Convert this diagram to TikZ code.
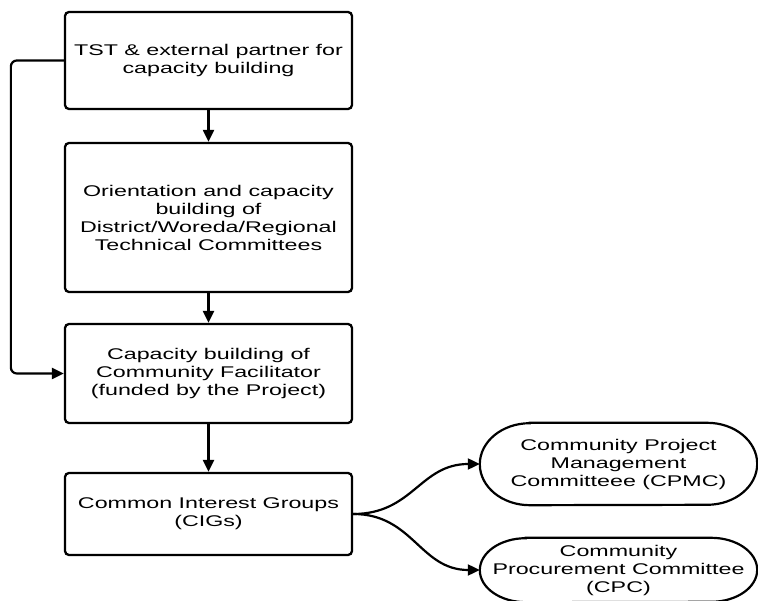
\documentclass[tikz,border=0pt]{standalone}
\usepackage{fontspec}
\setmainfont{Liberation Sans}[FakeStretch=1.5]
\usetikzlibrary{arrows.meta}
\begin{document}
\begin{tikzpicture}[x=1pt,y=1pt,
  every node/.style={font=\fontsize{15.5}{18}\selectfont, align=center, inner sep=0pt},
  stepbox/.style={draw, line width=2.3pt, rounded corners=4pt, minimum width=287pt},
  committee/.style={minimum width=277pt},
  outline/.style={line width=2.2pt},
  flow/.style={line width=2.2pt, -{Triangle[length=12pt,width=11pt]}}]
\useasboundingbox (0,0) rectangle (758,600);

% main chain of steps
\node[stepbox, minimum height=97pt]  (b1) at (208.5,539.5) {TST \& external partner for\\capacity building};
\node[stepbox, minimum height=149pt] (b2) at (208.5,382.5) {Orientation and capacity\\building of\\District/Woreda/Regional\\Technical Committees};
\node[stepbox, minimum height=99pt]  (b3) at (208.5,226.5) {Capacity building of\\Community Facilitator\\(funded by the Project)};
\node[stepbox, minimum height=82pt]  (b4) at (208.5,86) {Common Interest Groups\\(CIGs)};

% committees formed from the interest groups
\node[committee, minimum height=82pt] (cpmc) at (618.5,136) {Community Project\\Management\\Committeee (CPMC)};
\node[committee, minimum height=64pt] (cpc)  at (618.5,30) {Community\\Procurement Committee\\(CPC)};

\draw[outline] ([xshift=50pt]cpmc.north west) -- ([xshift=-50pt]cpmc.north east)
  arc[start angle=90,end angle=-90,x radius=50pt,y radius=41pt]
  -- ([xshift=50pt]cpmc.south west)
  arc[start angle=270,end angle=90,x radius=50pt,y radius=41pt] -- cycle;
\draw[outline] ([xshift=46pt]cpc.north west) -- ([xshift=-46pt]cpc.north east)
  arc[start angle=90,end angle=-90,x radius=46pt,y radius=32pt]
  -- ([xshift=46pt]cpc.south west)
  arc[start angle=270,end angle=90,x radius=46pt,y radius=32pt] -- cycle;

% connectors
\draw[flow] (b1) -- (b2);
\draw[flow] (b2) -- (b3);
\draw[flow] (b3) -- (b4);
\draw[flow, rounded corners=6pt] (b1.west) -- ++(-53,0) |- (b3.west);
\draw[flow] (b4.east) .. controls +(60,0) and +(-60,0) .. (cpmc.west);
\draw[flow] (b4.east) .. controls +(60,0) and +(-60,0) .. (cpc.west);
\end{tikzpicture}
\end{document}
